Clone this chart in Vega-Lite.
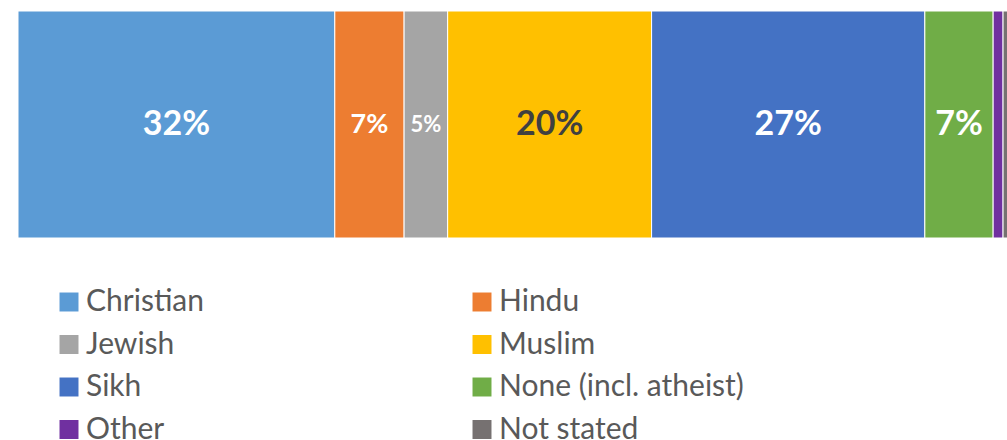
{
  "$schema": "https://vega.github.io/schema/vega-lite/v6.json",
  "width": 990,
  "height": 227,
  "autosize": {"type": "none"},
  "padding": {"left": 18, "top": 11, "right": 0, "bottom": 202},
  "background": "white",
  "config": {"view": {"stroke": null}},
  "data": {"values": [
    {"religion": "Christian", "idx": 1, "pct": 32, "label": "32%"},
    {"religion": "Hindu", "idx": 2, "pct": 7, "label": "7%"},
    {"religion": "Jewish", "idx": 3, "pct": 4.4, "label": "5%"},
    {"religion": "Muslim", "idx": 4, "pct": 20.6, "label": "20%"},
    {"religion": "Sikh", "idx": 5, "pct": 27.6, "label": "27%"},
    {"religion": "None (incl. atheist)", "idx": 6, "pct": 6.9, "label": "7%"},
    {"religion": "Other", "idx": 7, "pct": 1.0, "label": ""},
    {"religion": "Not stated", "idx": 8, "pct": 0.5, "label": ""}
  ]},
  "transform": [
    {"stack": "pct", "groupby": [], "sort": [{"field": "idx", "order": "ascending"}], "as": ["x0", "x1"]},
    {"calculate": "(datum.x0 + datum.x1) / 2", "as": "mid"}
  ],
  "layer": [
    {
      "mark": {"type": "rect", "stroke": "white", "strokeWidth": 1},
      "encoding": {
        "x": {"field": "x0", "type": "quantitative", "scale": {"domain": [0, 100], "nice": false, "zero": true}, "axis": null},
        "x2": {"field": "x1"},
        "color": {
          "field": "religion",
          "type": "nominal",
          "sort": ["Christian", "Jewish", "Sikh", "Other", "Hindu", "Muslim", "None (incl. atheist)", "Not stated"],
          "scale": {
            "domain": ["Christian", "Jewish", "Sikh", "Other", "Hindu", "Muslim", "None (incl. atheist)", "Not stated"],
            "range": ["#5B9BD5", "#A5A5A5", "#4472C4", "#7030A0", "#ED7D31", "#FFC000", "#70AD47", "#767171"]
          },
          "legend": {
            "orient": "none",
            "legendX": 36,
            "legendY": 276,
            "columns": 2,
            "title": null,
            "symbolType": "square",
            "symbolSize": 360,
            "symbolStrokeWidth": 0,
            "symbolOpacity": 1,
            "labelFont": "Lato",
            "labelFontSize": 30,
            "labelColor": "#595959",
            "labelLimit": 500,
            "labelOffset": 2,
            "columnPadding": 262,
            "rowPadding": 12.5
          }
        }
      }
    },
    {
      "mark": {"type": "text", "font": "Lato", "fontWeight": "bold", "baseline": "middle", "align": "center"},
      "encoding": {
        "x": {"field": "mid", "type": "quantitative"},
        "text": {"field": "label"},
        "color": {"condition": {"test": "datum.religion === 'Muslim'", "value": "#404040"}, "value": "white"},
        "size": {"condition": [
          {"test": "datum.religion === 'Hindu'", "value": 27},
          {"test": "datum.religion === 'Jewish'", "value": 22}
        ], "value": 34}
      }
    }
  ]
}
